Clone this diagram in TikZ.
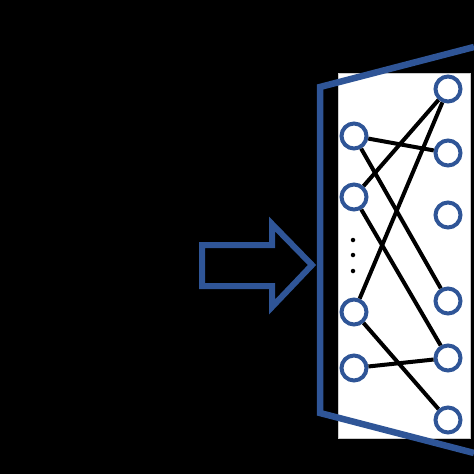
\documentclass[tikz,border=0pt]{standalone}
\definecolor{pblue}{RGB}{47,85,151}
\begin{document}
\begin{tikzpicture}[x=1pt,y=-1pt,
  nd/.style={circle,draw=pblue,line width=4pt,inner sep=0pt,minimum size=25pt},
  edge/.style={draw=black,line width=4pt},
  frame/.style={draw=pblue,line width=6.5pt,line join=miter},
  dotn/.style={circle,fill=black,inner sep=0pt,minimum size=4.5pt}]
\useasboundingbox (0,0) rectangle (474,474);
\fill[black] (0,0) rectangle (474,474);
\fill[white,draw=gray!40,line width=1pt] (338,73) rectangle (470,438);
\draw[frame] (474,47) -- (320,87) -- (320,413) -- (474,453);
\draw[frame,line width=6pt] (202,245) -- (272,245) -- (272,224) -- (312,265) -- (272,307) -- (272,286) -- (202,286) -- cycle;
\node[nd] (l1) at (354,136) {};
\node[nd] (l2) at (354,197) {};
\node[nd] (l3) at (354,312) {};
\node[nd] (l4) at (354,368) {};
\node[nd] (r1) at (448,89) {};
\node[nd] (r2) at (448,153) {};
\node[nd] (r3) at (448,215) {};
\node[nd] (r4) at (448,301) {};
\node[nd] (r5) at (448,358) {};
\node[nd] (r6) at (448,420) {};
\node[dotn] (d1) at (353,240) {};
\node[dotn] (d2) at (353,255) {};
\node[dotn] (d3) at (353,271) {};
\draw[edge] (l1) -- (r2);
\draw[edge] (l1) -- (r4);
\draw[edge] (l2) -- (r1);
\draw[edge] (l2) -- (r5);
\draw[edge] (l3) -- (r1);
\draw[edge] (l3) -- (r6);
\draw[edge] (l4) -- (r5);
\end{tikzpicture}
\end{document}
